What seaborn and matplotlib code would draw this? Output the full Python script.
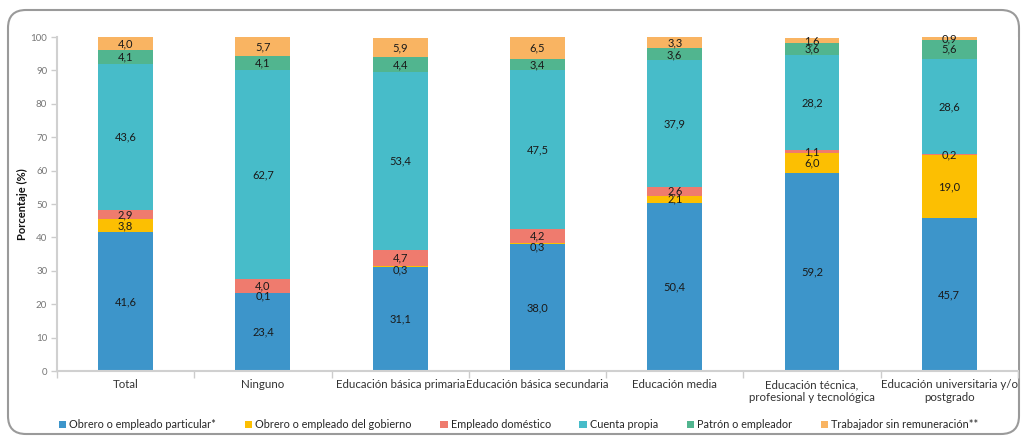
import matplotlib
matplotlib.use("Agg")
import matplotlib.pyplot as plt
from matplotlib.patches import FancyBboxPatch, Patch
import numpy as np
import pandas as pd
import seaborn as sns

# Education level categories (x axis)
categorias = [
    "Total",
    "Ninguno",
    "Educación básica primaria",
    "Educación básica secundaria",
    "Educación media",
    "Educación técnica,\nprofesional y tecnológica",
    "Educación universitaria y/o\npostgrado",
]

# Occupational position shares (%) per category, bottom to top
obrero_particular = [41.6, 23.4, 31.1, 38.0, 50.4, 59.2, 45.7]
obrero_gobierno = [3.8, 0.1, 0.3, 0.3, 2.1, 6.0, 19.0]
empleado_domestico = [2.9, 4.0, 4.7, 4.2, 2.6, 1.1, 0.2]
cuenta_propia = [43.6, 62.7, 53.4, 47.5, 37.9, 28.2, 28.6]
patron = [4.1, 4.1, 4.4, 3.4, 3.6, 3.6, 5.6]
sin_remuneracion = [4.0, 5.7, 5.9, 6.5, 3.3, 1.6, 0.9]

series = [
    ("Obrero o empleado particular*", obrero_particular, "#3d95ca"),
    ("Obrero o empleado del gobierno", obrero_gobierno, "#fcbf02"),
    ("Empleado doméstico", empleado_domestico, "#ef7b6e"),
    ("Cuenta propia", cuenta_propia, "#47bcc9"),
    ("Patrón o empleador", patron, "#51b58f"),
    ("Trabajador sin remuneración**", sin_remuneracion, "#f9b462"),
]

values = np.array([s[1] for s in series])
tops = np.cumsum(values, axis=0)
bottoms = tops - values

sns.set_style("white")
plt.rcParams["font.family"] = ["Lato", "DejaVu Sans"]

fig = plt.figure(figsize=(10.21, 4.36), dpi=100)
ax = fig.add_axes([0.0558, 0.149, 0.9412, 0.766])

# Stacked bars: draw cumulative totals from the top layer down
for i in range(len(series) - 1, -1, -1):
    df = pd.DataFrame({"cat": categorias, "val": tops[i]})
    sns.barplot(data=df, x="cat", y="val", order=categorias, color=series[i][2],
                saturation=1, width=0.4, linewidth=0, errorbar=None, ax=ax)

# Segment value labels; tiny government-worker segments get nudged down
for i in range(len(series)):
    for j in range(len(categorias)):
        v = values[i, j]
        y = bottoms[i, j] + v / 2
        dy = -2.5 if (i == 1 and v < 1) else 0
        ax.annotate(f"{v:.1f}".replace(".", ","), (j, y), xytext=(0, dy),
                    textcoords="offset points", ha="center", va="center",
                    fontsize=8, color="#1a1a1a")

ax.set_ylim(0, 100)
ax.set_xlim(-0.5, len(categorias) - 0.5)
ax.set_yticks(range(0, 101, 10))
ax.tick_params(axis="y", labelsize=7, labelcolor="#777777", color="#cccccc",
               length=4, width=1, left=True, pad=3)
ax.set_xticks(range(len(categorias)))
ax.set_xticklabels(categorias, fontsize=8.3, color="#333333", linespacing=1.15)
ax.tick_params(axis="x", which="major", length=0, pad=6)
ax.set_xticks(np.arange(-0.5, len(categorias), 1), minor=True)
ax.tick_params(axis="x", which="minor", length=5, color="#cccccc", width=1, bottom=True)
ax.set_xlabel("")
ax.set_ylabel("Porcentaje (%)", fontsize=8, fontweight="bold", color="#111111", labelpad=2)

for side in ["top", "right"]:
    ax.spines[side].set_visible(False)
for side in ["left", "bottom"]:
    ax.spines[side].set_color("#d0d0d0")
    ax.spines[side].set_linewidth(1.5)

handles = [Patch(facecolor=c, edgecolor="none", label=n) for n, _, c in series]
fig.legend(handles=handles, loc="center", bbox_to_anchor=(0.508, 0.026), ncol=6,
           frameon=False, fontsize=7.8, handlelength=0.7, handleheight=0.7,
           handletextpad=0.3, columnspacing=2.6)

# Rounded outer frame
frame = FancyBboxPatch((8, 2), 1011, 424, boxstyle="round,pad=0,rounding_size=18",
                       transform=None, facecolor="none", edgecolor="#9a9a9a",
                       linewidth=1.5, zorder=-1)
fig.patches.append(frame)

fig.savefig("out.png", dpi=100)
